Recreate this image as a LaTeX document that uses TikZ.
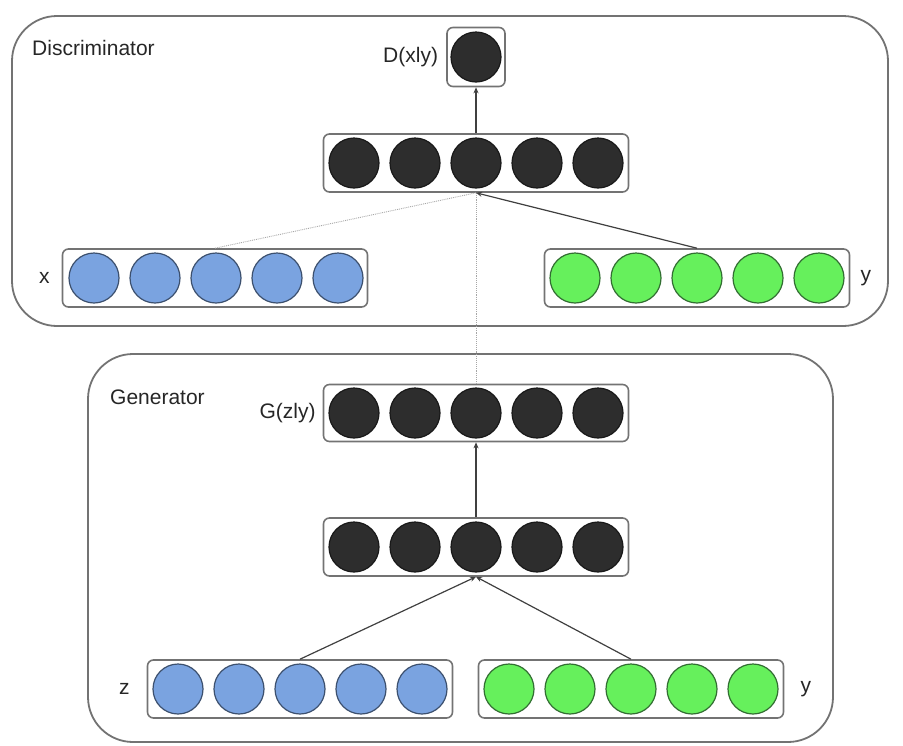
\documentclass[tikz,border=0pt]{standalone}
\usepackage{fontspec}
\setmainfont{Liberation Sans}
\usetikzlibrary{arrows.meta, positioning}
\definecolor{darkunit}  {RGB}{45, 45, 45}
\definecolor{bluefill}  {RGB}{122, 163, 224}
\definecolor{blueedge}  {RGB}{60, 80, 110}
\definecolor{greenfill} {RGB}{102, 240, 92}
\definecolor{greenedge} {RGB}{50, 110, 50}
\tikzset{
	panel/.style={
		draw=black!55, line width=1.8pt, rounded corners=45pt
	},
	layerbox/.style={
		rectangle, rounded corners=6pt,
		minimum width=305pt, minimum height=58pt,
		draw=black!55, line width=1.6pt
	},
	unit/.style={
		circle, minimum size=50pt, inner sep=0pt, line width=1.2pt
	},
	hidunit/.style={unit, fill=darkunit, draw=black!90},
	xunit/.style={unit, fill=bluefill, draw=blueedge},
	yunit/.style={unit, fill=greenfill, draw=greenedge},
	lbl/.style={font=\fontsize{21}{25}\selectfont, text=black!85, inner sep=2pt},
	arrow/.style={
		-{Stealth[length=6pt, width=5pt]}, line width=1.2pt, color=black!75
	},
	dotline/.style={
		densely dotted, line width=0.9pt, color=black!35
	}
}

\begin{document}
\begin{tikzpicture}[x=1pt, y=-1pt]
	\useasboundingbox (0,0) rectangle (903,745);

	%% panels
	\draw[panel] (12,16) rectangle (888,326);
	\draw[panel] (88,354) rectangle (833,742);
	\node[lbl, anchor=west] (dtitle) at (30,48) {Discriminator};
	\node[lbl, anchor=west] (gtitle) at (108,397) {Generator};

	%% ==========================
	%%  Discriminator
	%% ==========================
	\node[layerbox, minimum width=58pt, minimum height=59pt] (dout) at (476,57) {};
	\node[hidunit] (dout1) at (476,57) {};
	\node[lbl, left=6pt of dout] (doutlbl) {D(xly)};

	\node[layerbox] (dhid) at (476,163) {};
	\foreach \i in {1,...,5}
		\node[hidunit] (dhid\i) at (293+61*\i,163) {};

	\node[layerbox] (dx) at (215,278) {};
	\foreach \i in {1,...,5}
		\node[xunit] (dx\i) at (33+61*\i,278) {};
	\node[lbl, left=10pt of dx] (dxlbl) {x};

	\node[layerbox] (dy) at (697,278) {};
	\foreach \i in {1,...,5}
		\node[yunit] (dy\i) at (514+61*\i,278) {};
	\node[lbl, right=8pt of dy] (dylbl) {y};

	%% ==========================
	%%  Generator
	%% ==========================
	\node[layerbox, minimum height=57pt] (gout) at (476,413) {};
	\foreach \i in {1,...,5}
		\node[hidunit] (gout\i) at (293+61*\i,413) {};
	\node[lbl, left=5pt of gout] (goutlbl) {G(zly)};

	\node[layerbox] (ghid) at (476,547) {};
	\foreach \i in {1,...,5}
		\node[hidunit] (ghid\i) at (293+61*\i,547) {};

	\node[layerbox] (gz) at (300,689) {};
	\foreach \i in {1,...,5}
		\node[xunit] (gz\i) at (117+61*\i,689) {};
	\node[lbl, left=15pt of gz] (gzlbl) {z};

	\node[layerbox] (gy) at (631,689) {};
	\foreach \i in {1,...,5}
		\node[yunit] (gy\i) at (448+61*\i,689) {};
	\node[lbl, right=14pt of gy] (gylbl) {y};

	%% connections
	\draw[arrow] (dhid.north) -- (dout.south);
	\draw[dotline] (dx.north) -- (dhid.south);
	\draw[dotline] (gout.north) -- (dhid.south);
	\draw[arrow] (dy.north) -- (dhid.south);

	\draw[arrow] (ghid.north) -- (gout.south);
	\draw[arrow] (gz.north) -- (ghid.south);
	\draw[arrow] (gy.north) -- (ghid.south);
\end{tikzpicture}
\end{document}
